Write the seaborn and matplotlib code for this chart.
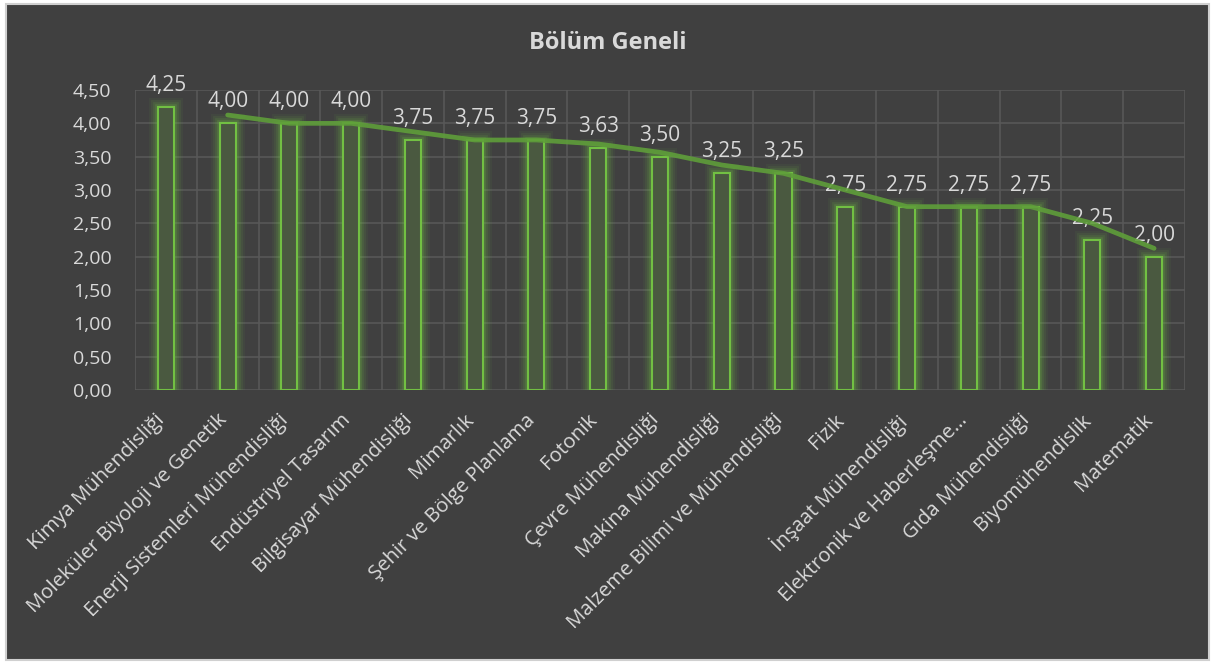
import numpy as np
import pandas as pd
import matplotlib
matplotlib.use("Agg")
import matplotlib.pyplot as plt
import matplotlib.patheffects as pe
import matplotlib.transforms as mtransforms
from matplotlib.patches import Rectangle
import seaborn as sns

categories = [
    "Kimya Mühendisliği", "Moleküler Biyoloji ve Genetik", "Enerji Sistemleri Mühendisliği",
    "Endüstriyel Tasarım", "Bilgisayar Mühendisliği", "Mimarlık", "Şehir ve Bölge Planlama",
    "Fotonik", "Çevre Mühendisliği", "Makina Mühendisliği", "Malzeme Bilimi ve Mühendisliği",
    "Fizik", "İnşaat Mühendisliği", "Elektronik ve Haberleşme…", "Gıda Mühendisliği",
    "Biyomühendislik", "Matematik",
]
values = [4.25, 4.00, 4.00, 4.00, 3.75, 3.75, 3.75, 3.63, 3.50, 3.25, 3.25,
          2.75, 2.75, 2.75, 2.75, 2.25, 2.00]
y_ticks = [0.0, 0.5, 1.0, 1.5, 2.0, 2.5, 3.0, 3.5, 4.0, 4.5]
y_tick_labels = ["0,00", "0,50", "1,00", "1,50", "2,00", "2,50", "3,00", "3,50", "4,00", "4,50"]
title = "Bölüm Geneli"

BG = "#404040"
TXT = "#d9d9d9"
GRID = "#595959"
GREEN = "#72c043"
FILL = "#4a5940"
TREND = "#5f9e3a"

sns.set_theme(style="dark")
plt.rcParams["font.family"] = ["Open Sans", "DejaVu Sans"]

W, H = 1215, 664
fig = plt.figure(figsize=(W / 100, H / 100), dpi=100, facecolor="white")
fig.patches.append(Rectangle((6 / W, 4 / H), (W - 12) / W, (H - 8) / H,
                             transform=fig.transFigure, facecolor=BG,
                             edgecolor="#d0d0d0", linewidth=1.5, zorder=-10))

ax = fig.add_axes([135 / W, 1 - 390 / H, 1050 / W, 300 / H])
ax.set_facecolor(BG)
ax.set_zorder(1)

df = pd.DataFrame({"cat": categories, "val": values})
sns.barplot(data=df, x="cat", y="val", ax=ax, color=FILL, width=0.26,
            edgecolor=GREEN, linewidth=1.5, saturation=1, zorder=3)

for p in ax.patches:
    p.set_path_effects([
        pe.Stroke(linewidth=13, foreground=GREEN, alpha=0.06),
        pe.Stroke(linewidth=10, foreground=GREEN, alpha=0.09),
        pe.Stroke(linewidth=7, foreground=GREEN, alpha=0.13),
        pe.Stroke(linewidth=4, foreground=GREEN, alpha=0.2),
        pe.Normal(),
    ])

# 2-period moving average trendline (as in the source chart)
trend = df["val"].rolling(2).mean()
xs = np.arange(len(values))
ax.plot(xs[1:], trend[1:], color=TREND, linewidth=3.4, alpha=0.9,
        solid_capstyle="round", zorder=4)

labels = [f"{v:.2f}".replace(".", ",") for v in values]
ax.bar_label(ax.containers[0], labels=labels, padding=8, color=TXT, fontsize=15)

ax.set_ylim(0, 4.5)
ax.set_xlim(-0.5, len(values) - 0.5)
ax.set_yticks(y_ticks)
ax.set_yticklabels(y_tick_labels)
ax.set_xticks(xs)
ax.set_xticklabels(categories, rotation=45, ha="right", va="top", rotation_mode="anchor")
ax.set_xticks(np.arange(-0.5, len(values), 1.0), minor=True)
ax.tick_params(axis="y", length=0, pad=17, labelsize=14, labelcolor=TXT)
ax.tick_params(axis="x", which="major", length=0, pad=14.5, labelsize=14.6, labelcolor=TXT)
ax.tick_params(axis="x", which="minor", length=0)
shift = mtransforms.ScaledTranslation(-11 / 100, 0, fig.dpi_scale_trans)
for lab in ax.get_xticklabels():
    lab.set_transform(lab.get_transform() + shift)
ax.grid(False)
ax.yaxis.grid(True, color=GRID, linewidth=1.1)
ax.xaxis.grid(True, which="minor", color=GRID, linewidth=1.1)
for s in ax.spines.values():
    s.set_visible(False)
ax.set_xlabel("")
ax.set_ylabel("")

fig.text(0.5, 1 - 43 / H, title, ha="center", va="center", color=TXT,
         fontsize=17, fontweight="bold")

fig.savefig("out.png", dpi=100, facecolor="white")
